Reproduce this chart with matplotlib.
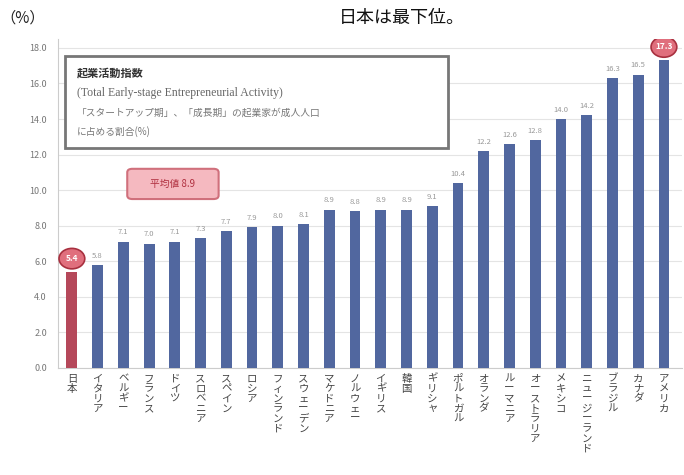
import matplotlib
matplotlib.use("Agg")
import matplotlib.pyplot as plt
from matplotlib.patches import FancyBboxPatch, Ellipse, Rectangle

plt.rcParams['font.family'] = ['Noto Sans CJK JP', 'DejaVu Sans']

countries = ["日本", "イタリア", "ベルギー", "フランス", "ドイツ", "スロベニア",
             "スペイン", "ロシア", "フィンランド", "スウェーデン", "マケドニア",
             "ノルウェー", "イギリス", "韓国", "ギリシャ", "ポルトガル", "オランダ",
             "ルーマニア", "オーストラリア", "メキシコ", "ニュージーランド",
             "ブラジル", "カナダ", "アメリカ"]
values = [5.4, 5.8, 7.1, 7.0, 7.1, 7.3, 7.7, 7.9, 8.0, 8.1, 8.9, 8.8,
          8.9, 8.9, 9.1, 10.4, 12.2, 12.6, 12.8, 14.0, 14.2, 16.3, 16.5, 17.3]
yticks = [0, 2, 4, 6, 8, 10, 12, 14, 16, 18]
highlight = ["日本", "アメリカ"]

title = "日本は最下位。"
unit = "（%）"
box_lines = ["起業活動指数",
             "(Total Early-stage Entrepreneurial Activity)",
             "「スタートアップ期」、「成長期」の起業家が成人人口",
             "に占める割合(%)"]
avg_label = "平均値 8.9"

fig = plt.figure(figsize=(6.84, 4.75), dpi=100)
ax = fig.add_axes([0.0848, 0.2253, 0.9122, 0.6926])

x = list(range(len(countries)))
colors = ["#b5485a" if c == "日本" else "#51679f" for c in countries]
ax.bar(x, values, width=0.42, color=colors, zorder=3)

ax.set_xlim(-0.54, 23.7)
ax.set_ylim(0, 18.5)
ax.set_yticks(yticks)
ax.set_yticklabels([f"{v:.1f}" for v in yticks], fontsize=6.5, color="#777777")
ax.yaxis.grid(True, color="#e4e4e4", linewidth=0.8, zorder=0)
ax.set_facecolor("white")
for s in ["top", "right"]:
    ax.spines[s].set_visible(False)
ax.spines["left"].set_color("#cccccc")
ax.spines["bottom"].set_color("#cccccc")
ax.tick_params(axis="y", length=0, pad=8)
ax.tick_params(axis="x", length=0, pad=4)
ax.set_xticks(x)
ax.set_xticklabels(["\n".join(list(c)) for c in countries], fontsize=7.5,
                   color="#444444", linespacing=1.0, va="top")

for xi, v, c in zip(x, values, countries):
    if c in highlight:
        ax.add_patch(Ellipse((xi, v + 0.75), 1.0, 1.15, facecolor="#e06f7d",
                             edgecolor="#a8303f", linewidth=1.2, zorder=5))
        ax.text(xi, v + 0.75, f"{v:.1f}", ha="center", va="center",
                fontsize=6, color="white", fontweight="bold", zorder=6)
    else:
        ax.text(xi, v + 0.3, f"{v:.1f}", ha="center", va="bottom",
                fontsize=5.5, color="#999999", zorder=4)

# explanation box
ax.add_patch(Rectangle((-0.25, 12.35), 14.85, 5.2, facecolor="white",
                       edgecolor="#777777", linewidth=2, zorder=7))
ax.text(0.2, 16.6, box_lines[0], fontsize=8, fontweight="bold",
        color="#333333", va="center", zorder=8)
ax.text(0.2, 15.45, box_lines[1], fontsize=8.5, color="#666666",
        va="center", family="Liberation Serif", zorder=8)
ax.text(0.2, 14.35, box_lines[2], fontsize=7, color="#777777",
        va="center", zorder=8)
ax.text(0.2, 13.3, box_lines[3], fontsize=7, color="#777777",
        va="center", zorder=8)

# average label
ax.add_patch(FancyBboxPatch((2.2, 9.55), 3.45, 1.6,
                            boxstyle="round,pad=0.05,rounding_size=0.2",
                            facecolor="#f5b9c0", edgecolor="#d0707c",
                            linewidth=1.5, zorder=7))
ax.text(3.92, 10.35, avg_label, ha="center", va="center", fontsize=7,
        color="#b03040", zorder=8)

fig.text(0.0, 0.962, unit, fontsize=11, color="#222222", va="center")
fig.text(0.587, 0.962, title, fontsize=13, color="#111111", va="center",
         ha="center")

fig.savefig("out.png", dpi=100)
